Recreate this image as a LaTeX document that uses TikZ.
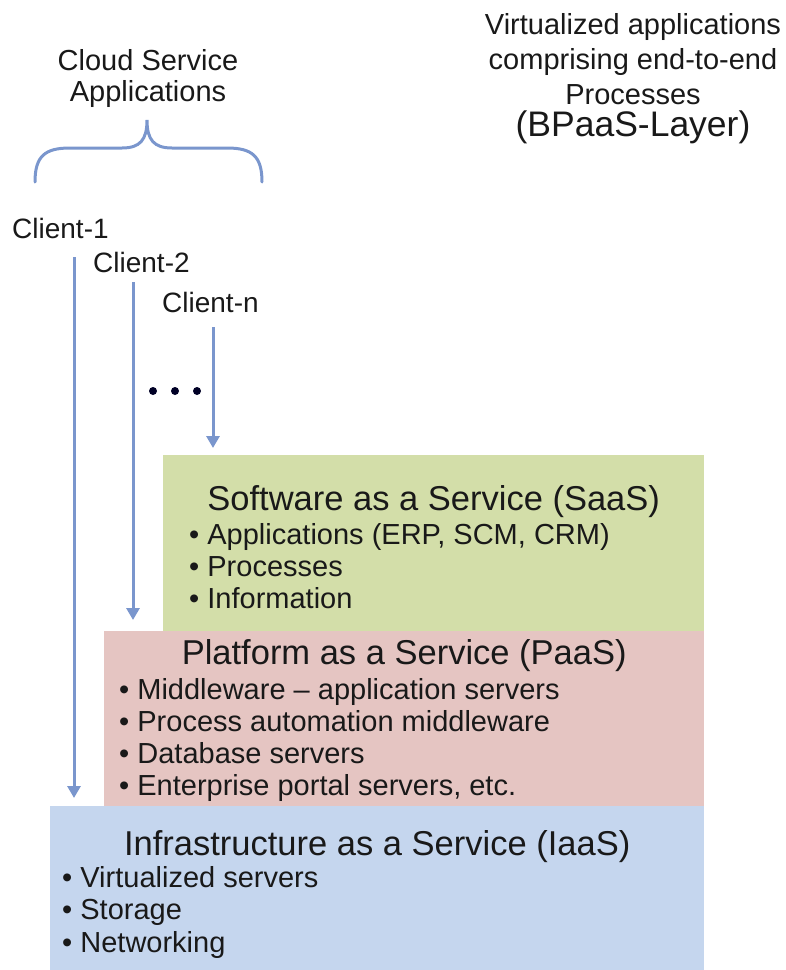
\documentclass[tikz,border=0pt]{standalone}
\usepackage{fontspec}
\setmainfont{Liberation Sans}
\usetikzlibrary{arrows.meta}

\definecolor{saasgreen}{RGB}{211,222,169}
\definecolor{paaspink}{RGB}{229,197,194}
\definecolor{iaasblue}{RGB}{197,214,238}
\definecolor{linkblue}{RGB}{122,150,205}
\definecolor{inktext}{RGB}{25,25,25}

\tikzset{
  layer/.style 2 args={rectangle,anchor=north west,inner sep=0pt,
    minimum width=#1,minimum height=#2},
  layertitle/.style={font=\fontsize{34.5}{40}\selectfont,text=inktext,anchor=base,inner sep=0pt},
  item/.style={font=\fontsize{29}{32}\selectfont,text=inktext,anchor=base west,inner sep=0pt},
  client/.style={font=\fontsize{28}{32}\selectfont,text=inktext,anchor=base west,inner sep=0pt},
  note/.style={font=\fontsize{29}{31}\selectfont,text=inktext,align=center,anchor=base,inner sep=0pt},
  flow/.style={draw=linkblue,line width=3pt,-{Triangle[length=12pt,width=13pt]}}
}

\begin{document}
\begin{tikzpicture}[x=1pt,y=-1pt]
\useasboundingbox (0,0) rectangle (786,970);

% the three layers
\node [layer={654pt}{164pt},fill=iaasblue] (iaas) at (50,806) {};
\node [layer={600pt}{175pt},fill=paaspink] (paas) at (104,631) {};
\node [layer={541pt}{176pt},fill=saasgreen] (saas) at (163,455) {};

\node [layertitle] (saastitle) at ([yshift=-55pt]saas.north) {Software as a Service (SaaS)};
\node [layertitle] (paastitle) at ([yshift=-33pt]paas.north) {Platform as a Service (PaaS)};
\node [layertitle] (iaastitle) at ([yshift=-49pt]iaas.north) {Infrastructure as a Service (IaaS)};

\foreach \t [count=\i] in {{Applications (ERP, SCM, CRM)},Processes,Information}
  \node [item] (saas\i) at (189,544+32*\i-32) {• \t};
\foreach \t [count=\i] in {Middleware – application servers,Process automation middleware,
    Database servers,{Enterprise portal servers, etc.}}
  \node [item] (paas\i) at (119,699+32.3*\i-32.3) {• \t};
\foreach \t [count=\i] in {Virtualized servers,Storage,Networking}
  \node [item] (iaas\i) at (62,887+32.5*\i-32.5) {• \t};

% clients
\node [client] (client1) at (12,238) {Client-1};
\node [client] (client2) at (93,272) {Client-2};
\node [client] (clientn) at (162,312) {Client-n};

\coordinate (s1) at (74,257);
\coordinate (s2) at (133,282);
\coordinate (sn) at (213,327);
\draw [flow,shorten >=8pt] (s1) -- (s1 |- iaas.north);
\draw [flow,shorten >=11pt] (s2) -- (s2 |- paas.north);
\draw [flow,shorten >=7pt] (sn) -- (sn |- saas.north);

\foreach \x in {153,175,197}
  \fill [black!85!blue] (\x,391) circle (4pt);

% brace over the clients
\node [note] (cloudapps) at (148,101) {Cloud Service\\Applications};
\draw [linkblue,line width=3pt,line cap=round]
  (35,182) .. controls (35,156) and (45,148) .. (70,148) -- (122,148)
  .. controls (140,148) and (147,140) .. (147,120)
  .. controls (147,140) and (154,148) .. (172,148) -- (227,148)
  .. controls (252,148) and (262,156) .. (262,182);

\node [note] (bpaas) at (633,136)
  {Virtualized applications\\[4pt]comprising end-to-end\\[4pt]Processes\\[1pt]
   {\fontsize{35.5}{40}\selectfont (BPaaS-Layer)}};
\end{tikzpicture}
\end{document}
